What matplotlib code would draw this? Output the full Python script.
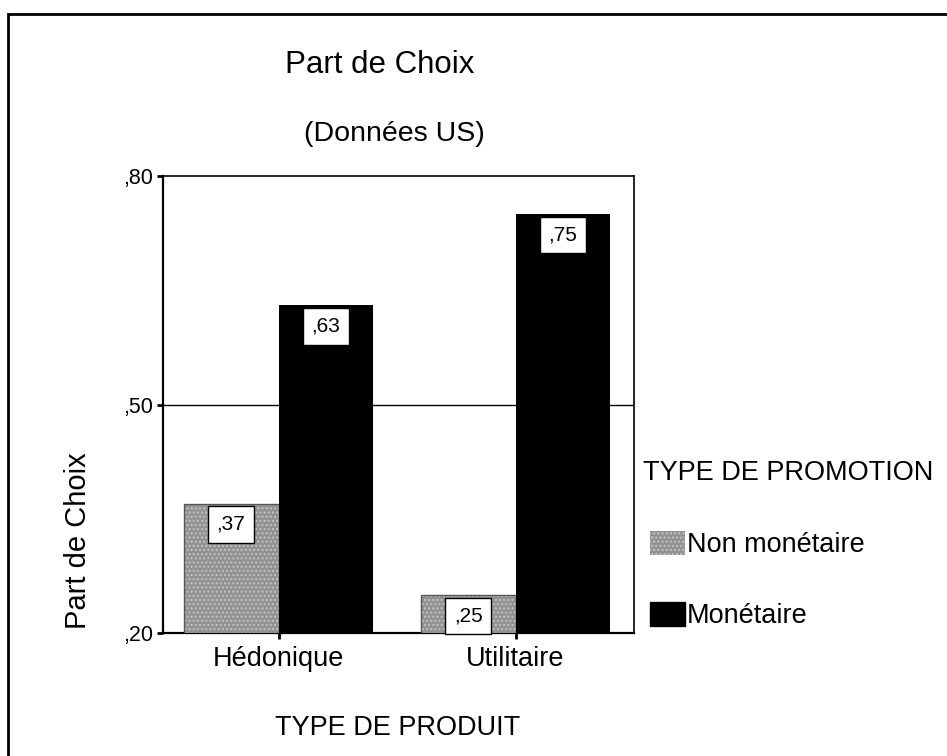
import matplotlib
matplotlib.use("Agg")
import matplotlib.pyplot as plt
from matplotlib.patches import Rectangle, Patch
import numpy as np

plt.rcParams['font.family'] = ['Liberation Sans', 'DejaVu Sans']

categories = ["Hédonique", "Utilitaire"]
series_names = ["Non monétaire", "Monétaire"]
non_monetaire = [0.37, 0.25]
monetaire = [0.63, 0.75]
labels_non = [",37", ",25"]
labels_mon = [",63", ",75"]
yticks = [0.20, 0.50, 0.80]
ytick_labels = [",20", ",50", ",80"]

W, H = 947, 756
fig = plt.figure(figsize=(W / 100, H / 100), dpi=100)

# outer frame (top and left visible)
fig.add_artist(Rectangle((8 / W, -0.05), 1.0, 1 - 14 / H + 0.05,
                         transform=fig.transFigure, fill=False,
                         edgecolor='black', linewidth=2.0))

ax_l, ax_r, ax_t, ax_b = 163, 634, 176, 633
ax = fig.add_axes([ax_l / W, 1 - ax_b / H, (ax_r - ax_l) / W, (ax_b - ax_t) / H])

x = np.arange(len(categories))
bw = 0.4
gray = '#929292'
ax.bar(x - bw / 2, [v - 0.2 for v in non_monetaire], bw, bottom=0.2,
       facecolor=gray, edgecolor='#c4c4c4', hatch='....', linewidth=0, zorder=3)
ax.bar(x - bw / 2, [v - 0.2 for v in non_monetaire], bw, bottom=0.2,
       facecolor='none', edgecolor='#555555', linewidth=1, zorder=3)
ax.bar(x + bw / 2, [v - 0.2 for v in monetaire], bw, bottom=0.2,
       facecolor='black', edgecolor='black', linewidth=0, zorder=3)

for xs, vals, labs in ((x - bw / 2, non_monetaire, labels_non),
                       (x + bw / 2, monetaire, labels_mon)):
    for xi, v, t in zip(xs, vals, labs):
        ax.annotate(t, (xi, v), xytext=(0, -15), textcoords='offset points',
                    ha='center', va='center', fontsize=15, zorder=5,
                    bbox=dict(boxstyle='square,pad=0.42', fc='white', ec='black', lw=1))

ax.set_ylim(0.20, 0.80)
ax.set_xlim(-(278.5 - ax_l) / 237, 1 + (ax_r - 515.5) / 237)
ax.set_yticks(yticks)
ax.set_yticklabels(ytick_labels, fontsize=15.5)
ax.set_xticks(x)
ax.set_xticklabels(categories, fontsize=19.5)
ax.tick_params(axis='y', length=4, width=2, pad=3)
ax.tick_params(axis='x', length=4, width=2, pad=5)
ax.axhline(0.50, color='black', linewidth=1, zorder=2)
for s in ax.spines.values():
    s.set_linewidth(1.2)
ax.spines['left'].set_linewidth(1.6)
ax.spines['bottom'].set_linewidth(1.6)

fig.text(380 / W, 1 - 65 / H, "Part de Choix", ha='center', va='center', fontsize=22.5)
fig.text(394 / W, 1 - 134 / H, "(Données US)", ha='center', va='center', fontsize=20.5)
fig.text(78 / W, 1 - 541 / H, "Part de Choix", ha='center', va='center',
         fontsize=21, rotation=90)
fig.text(398 / W, 1 - 728 / H, "TYPE DE PRODUIT", ha='center', va='center', fontsize=19.5)

fig.text(643 / W, 1 - 473 / H, "TYPE DE PROMOTION", ha='left', va='center', fontsize=19.5)
handles = [Patch(facecolor=gray, edgecolor='#c4c4c4', hatch='....', linewidth=0),
           Patch(facecolor='black', edgecolor='black')]
leg = fig.legend(handles, series_names, loc='upper left',
                 bbox_to_anchor=(650 / W, 1 - 531 / H), frameon=False,
                 fontsize=19.5, handlelength=1.3, handleheight=1.0,
                 handletextpad=0.05, labelspacing=1.6, borderpad=0,
                 borderaxespad=0)

fig.savefig("out.png", dpi=100)
